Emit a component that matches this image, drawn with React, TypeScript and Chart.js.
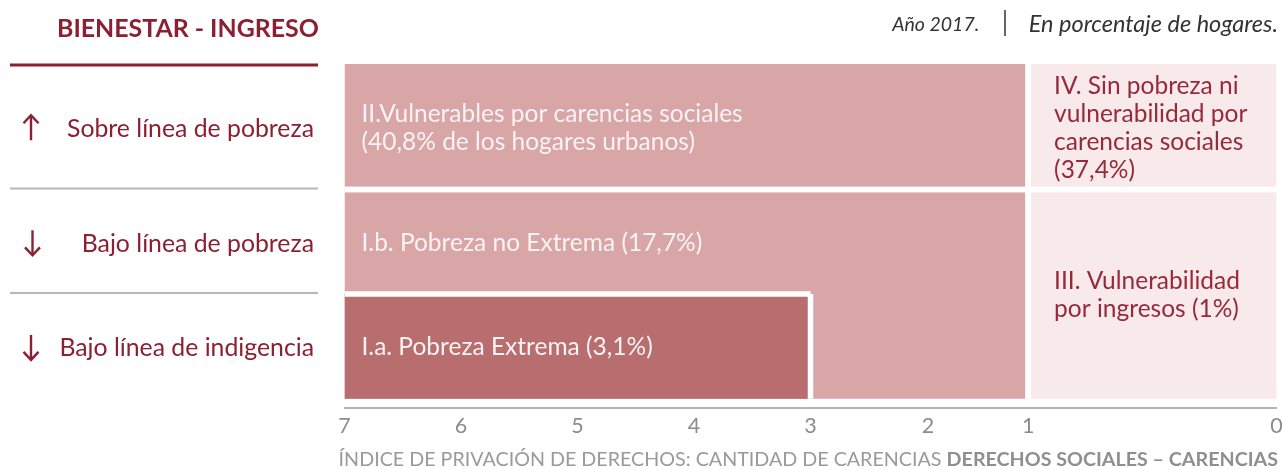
import React, { useEffect, useRef } from 'react';
import { Chart, registerables, LinearScale } from 'chart.js';

// ---------- data ----------
const carenciaTicks = [7, 6, 5, 4, 3, 2, 1, 0];
// the axis is drawn with a wider first interval (0–1)
const axisBreakValues = [0, 1, 2, 3, 7];
const axisBreakDecimals = [0, 0.2665, 0.374, 0.5, 1];

const rowLabels = ['Sobre línea de pobreza', 'Bajo línea de pobreza', 'Bajo línea de indigencia'];
const rowArrowUp = [true, false, false];
const rowBands: [number, number][] = [[2, 3.2], [1, 2], [0, 1]];

const regionLabels = [
  'I.a. Pobreza Extrema (3,1%)',
  'I.b. Pobreza no Extrema (17,7%)',
  'II.Vulnerables por carencias sociales\n(40,8% de los hogares urbanos)',
  'III. Vulnerabilidad\npor ingresos (1%)',
  'IV. Sin pobreza ni\nvulnerabilidad por\ncarencias sociales\n(37,4%)',
];
const regionShares = [3.1, 17.7, 40.8, 1, 37.4];
const regionCarencias: [number, number][] = [[3, 7], [1, 7], [1, 7], [0, 1], [0, 1]];
const regionRows: [number, number][] = [[2, 2], [1, 2], [0, 0], [1, 2], [0, 0]];
const regionLabelRows: [number, number][] = [[2, 2], [1, 1], [0, 0], [1, 2], [0, 0]];
const regionColors = ['#b86d6e', '#d9a6a8', '#d9a6a8', '#f8e9ea', '#f8e9ea'];
const regionTextColors = ['#fbf2f2', '#fbf2f2', '#fbf2f2', '#97293a', '#97293a'];

// ---------- styles ----------
const FONT = 'Lato, "Open Sans", sans-serif';
const DARK_RED = '#8d1f32';

function valueToDecimal(v: number) {
  const n = axisBreakValues.length;
  for (let i = 1; i < n; i++) {
    if (v <= axisBreakValues[i] || i === n - 1) {
      const a = axisBreakValues[i - 1], b = axisBreakValues[i];
      const da = axisBreakDecimals[i - 1], db = axisBreakDecimals[i];
      return da + ((v - a) / (b - a)) * (db - da);
    }
  }
  return 0;
}
function decimalToValue(d: number) {
  const n = axisBreakDecimals.length;
  for (let i = 1; i < n; i++) {
    if (d <= axisBreakDecimals[i] || i === n - 1) {
      const a = axisBreakDecimals[i - 1], b = axisBreakDecimals[i];
      const va = axisBreakValues[i - 1], vb = axisBreakValues[i];
      return va + ((d - a) / (b - a)) * (vb - va);
    }
  }
  return 0;
}

class BrokenLinearScale extends LinearScale {
  static id = 'brokenLinear';
  getPixelForValue(value: any) {
    if (value === null || value === undefined || isNaN(value)) return NaN;
    return this.getPixelForDecimal(valueToDecimal(+value));
  }
  getValueForPixel(pixel: number) {
    return decimalToValue(this.getDecimalForPixel(pixel));
  }
}

Chart.register(...registerables, BrokenLinearScale);

function regionRect(i: number) {
  const [c0, c1] = regionCarencias[i];
  const [r0, r1] = regionRows[i];
  const y0 = rowBands[r1][0];
  const y1 = rowBands[r0][1];
  return { c0, c1, y0, y1 };
}

const X_MIN = Math.min(...carenciaTicks);
const X_MAX = Math.max(...carenciaTicks);
const Y_MIN = Math.min(...rowBands.map((b) => b[0]));
const Y_MAX = Math.max(...rowBands.map((b) => b[1]));

function buildDatasets() {
  const fills: any[] = regionLabels.map((label, i) => {
    const { c0, c1, y0, y1 } = regionRect(i);
    return {
      label,
      data: [
        { x: c1, y: y0 },
        { x: c0, y: y0 },
        { x: c0, y: y1 },
        { x: c1, y: y1 },
        { x: c1, y: y0 },
      ],
      backgroundColor: regionColors[i],
      borderColor: 'rgba(0,0,0,0)',
      borderWidth: 0,
      pointRadius: 0,
      fill: 'shape',
      tension: 0,
    };
  });
  const dividers: any[] = [];
  regionLabels.forEach((_, i) => {
    const { c0, c1, y0, y1 } = regionRect(i);
    const edges: { x: number; y: number }[][] = [];
    if (y1 < Y_MAX) edges.push([{ x: c1, y: y1 }, { x: c0, y: y1 }]);
    if (y0 > Y_MIN) edges.push([{ x: c1, y: y0 }, { x: c0, y: y0 }]);
    if (c1 < X_MAX) edges.push([{ x: c1, y: y0 }, { x: c1, y: y1 }]);
    if (c0 > X_MIN) edges.push([{ x: c0, y: y0 }, { x: c0, y: y1 }]);
    edges.forEach((e) =>
      dividers.push({
        label: 'divider',
        data: e,
        borderColor: '#ffffff',
        borderWidth: 5.5,
        borderCapStyle: 'butt',
        pointRadius: 0,
        fill: false,
      })
    );
  });
  return [...fills, ...dividers];
}

function drawArrow(ctx: CanvasRenderingContext2D, x: number, yMid: number, up: boolean) {
  const half = 12.5;
  const tipY = up ? yMid - half : yMid + half;
  const tailY = up ? yMid + half : yMid - half;
  const dir = up ? 1 : -1;
  ctx.beginPath();
  ctx.moveTo(x, tailY);
  ctx.lineTo(x, tipY + dir * 1);
  ctx.stroke();
  ctx.beginPath();
  ctx.moveTo(x - 7.5, tipY + dir * 8);
  ctx.lineTo(x, tipY);
  ctx.lineTo(x + 7.5, tipY + dir * 8);
  ctx.stroke();
}

const labelsPlugin = {
  id: 'diagramLabels',
  afterDatasetsDraw(chart: any) {
    const { ctx } = chart;
    const xs = chart.scales.x;
    const ys = chart.scales.y;
    ctx.save();
    // region labels
    const lh = 28;
    regionLabels.forEach((label, i) => {
      const lines = label.split('\n');
      const [c0, c1] = regionCarencias[i];
      const [r0, r1] = regionLabelRows[i];
      const yMid = ys.getPixelForValue((rowBands[r1][0] + rowBands[r0][1]) / 2);
      const xLeft = xs.getPixelForValue(c1) + (c1 >= X_MAX ? 17 : 26);
      ctx.font = `400 24.5px ${FONT}`;
      ctx.fillStyle = regionTextColors[i];
      ctx.textAlign = 'left';
      ctx.textBaseline = 'middle';
      const startY = yMid - ((lines.length - 1) * lh) / 2 + 1;
      lines.forEach((ln, k) => ctx.fillText(ln, xLeft, startY + k * lh));
    });
    // left row labels
    rowLabels.forEach((label, r) => {
      const yMid = ys.getPixelForValue((rowBands[r][0] + rowBands[r][1]) / 2);
      ctx.font = `400 24.8px ${FONT}`;
      ctx.fillStyle = DARK_RED;
      ctx.textAlign = 'right';
      ctx.textBaseline = 'middle';
      ctx.fillText(label, 314, yMid + 2);
      ctx.strokeStyle = DARK_RED;
      ctx.lineWidth = 2.4;
      ctx.lineCap = 'butt';
      ctx.lineJoin = 'miter';
      drawArrow(ctx, r === 1 ? 32.5 : 31, yMid + 1, rowArrowUp[r]);
    });
    // left separator lines
    rowBands.forEach((b, r) => {
      const y = ys.getPixelForValue(b[1]);
      ctx.beginPath();
      ctx.strokeStyle = r === 0 ? DARK_RED : '#b8b8b8';
      ctx.lineWidth = r === 0 ? 3 : 2;
      ctx.moveTo(10, r === 0 ? y + 1 : y - 1);
      ctx.lineTo(318, r === 0 ? y + 1 : y - 1);
      ctx.stroke();
    });
    ctx.restore();
  },
};

export default function App() {
  const ref = useRef<HTMLCanvasElement | null>(null);
  useEffect(() => {
    if (!ref.current) return;
    const chart = new Chart(ref.current, {
      type: 'line',
      data: { datasets: buildDatasets() },
      options: {
        animation: false,
        responsive: false,
        events: [],
        layout: { padding: { left: 344.5, right: 5.5, top: 64, bottom: 0 } },
        plugins: {
          legend: { display: false },
          tooltip: { enabled: false },
          filler: { drawTime: 'beforeDatasetsDraw' },
        } as any,
        scales: {
          x: {
            type: 'brokenLinear' as any,
            min: X_MIN,
            max: X_MAX,
            reverse: true,
            afterBuildTicks: (s: any) => {
              s.ticks = carenciaTicks.map((v) => ({ value: v }));
            },
            afterFit: (s: any) => {
              s.height = 62.4;
              s.paddingLeft = 0;
              s.paddingRight = 0;
            },
            grid: { display: false, drawTicks: false },
            border: { display: true, color: '#b3b3b3', width: 2 },
            ticks: {
              color: '#8c8c8c',
              font: { family: FONT, size: 21.5 },
              padding: 6,
              maxRotation: 0,
              autoSkip: false,
            },
          },
          y: { type: 'linear', display: false, min: -0.085, max: Y_MAX },
        },
      },
      plugins: [labelsPlugin],
    });
    return () => chart.destroy();
  }, []);

  return (
    <div style={{ position: 'fixed', left: 0, top: 0, width: 1282, height: 470, background: '#fff', fontFamily: FONT }}>
      <canvas ref={ref} width={1282} height={470} style={{ display: 'block', position: 'absolute', left: 0, top: 0 }} />
      <div style={{ position: 'absolute', left: 57, top: 11, lineHeight: '32px', fontSize: 24.9, fontWeight: 700, color: DARK_RED, whiteSpace: 'nowrap' }}>
        BIENESTAR - INGRESO
      </div>
      <div style={{ position: 'absolute', right: 4, top: 7, height: 32, display: 'flex', alignItems: 'center', fontStyle: 'italic', color: '#333', whiteSpace: 'nowrap' }}>
        <span style={{ fontSize: 19.5 }}>Año 2017.</span>
        <span style={{ display: 'inline-block', width: 1.5, height: 26, background: '#666', margin: '0 23px 0 25px' }} />
        <span style={{ fontSize: 23.5 }}>En porcentaje de hogares.</span>
      </div>
      <div style={{ position: 'absolute', right: 4, top: 446, lineHeight: '26px', fontSize: 19.7, color: '#9a9a9a', whiteSpace: 'nowrap' }}>
        ÍNDICE DE PRIVACIÓN DE DERECHOS: CANTIDAD DE CARENCIAS{' '}
        <span style={{ fontWeight: 700, color: '#8f8f8f' }}>DERECHOS SOCIALES – CARENCIAS</span>
      </div>
    </div>
  );
}
